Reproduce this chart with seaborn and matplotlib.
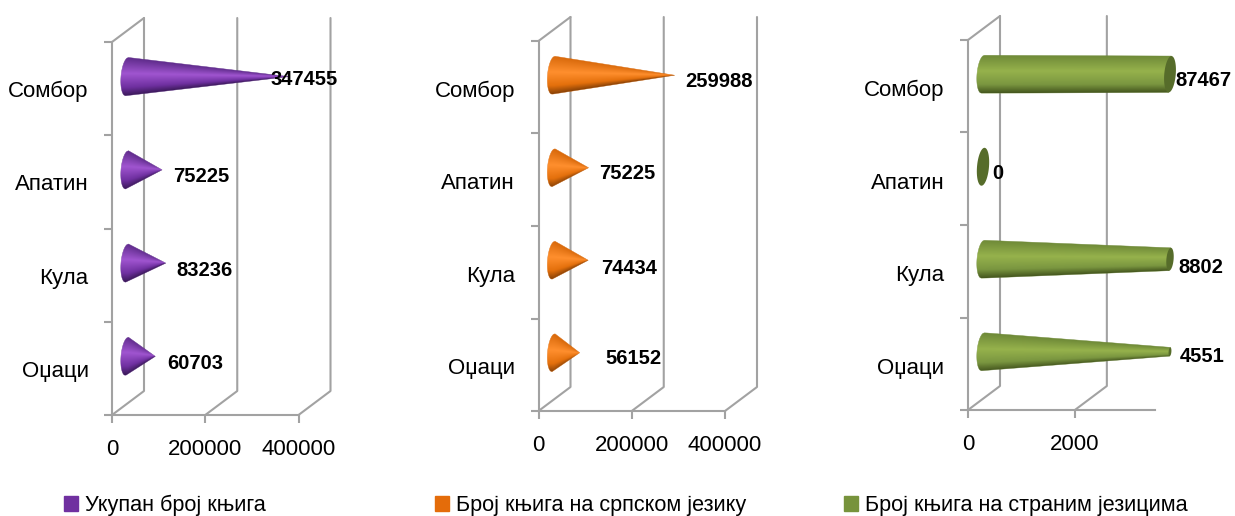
"""
Book counts by municipality, three cone-style horizontal bar panels.
"""

import numpy as np
import pandas as pd
import seaborn as sns
import matplotlib.pyplot as plt
from matplotlib.colors import LinearSegmentedColormap
from matplotlib.patches import Patch, Polygon

cities = ["Сомбор", "Апатин", "Кула", "Оџаци"]
total_books = [347455, 75225, 83236, 60703]
serbian_books = [259988, 75225, 74434, 56152]
foreign_books = [87467, 0, 8802, 4551]

series_names = ["Укупан број књига", "Број књига на српском језику",
                "Број књига на страним језицима"]
ticks_total = [0, 200000, 400000]
ticks_foreign = [0, 2000]

FONT = ["Liberation Sans", "DejaVu Sans"]
GRAY = "#a2a2a2"
W, H = 1235, 516

# per panel: left, right, top, bottom of the front plane in pixels, xmax, ticks,
# shades (edge, light, base, dark, cap), label shift from the tip
panels = [
    dict(values=total_books, box=(112, 298.5, 42, 415), xmax=400000,
         ticks=ticks_total,
         shades=("#5e2b8a", "#a055d0", "#6f30a0", "#3a1958", "#4d2373"),
         label_dx=[-19, 11, 11, 12], label_dy=[3, 7, 7, 7], cat_dy=3,
         legend_x=64, name=series_names[0], swatch="#7030a0"),
    dict(values=serbian_books, box=(538.5, 725, 41, 411), xmax=400000,
         ticks=ticks_total,
         shades=("#d96a0c", "#ff8f2e", "#e4700c", "#8a4206", "#a04c08"),
         label_dx=[11, 11, 13, 26], label_dy=[6, 6, 8, 6], cat_dy=4,
         legend_x=435, name=series_names[1], swatch="#e46c0a"),
    dict(values=foreign_books, box=(968, 1155, 40, 410), xmax=3500,
         ticks=ticks_foreign,
         shades=("#6f8a38", "#96b24c", "#7a9640", "#46581f", "#566c2a"),
         label_dx=[5, 9, 8, 10], label_dy=[6, 7, 8, 5], cat_dy=4.5,
         legend_x=844, name=series_names[2], swatch="#77933c"),
]


def draw_cone(ax, p, xmax, shades, px_x, px_y):
    """Turn one hidden seaborn bar into a shaded cone at the chart's mid depth."""
    value = p.get_width()
    r = p.get_height() / 2
    cy = p.get_y() + r - 12 * px_y
    x0 = 15 * px_x
    wid = 6 * px_x
    slant = 1.5 * px_x
    end = min(value, xmax)
    # clipped bars stop before their tip and keep part of the radius
    keep = 1 - end / value if value > 0 else 1
    cmap = LinearSegmentedColormap.from_list(
        "cone", [(0, shades[0]), (0.42, shades[1]), (0.78, shades[2]), (1, shades[3])])
    if value > 0:
        t = np.linspace(-1, 1, 61)
        back = np.c_[x0 - wid * np.sqrt(1 - t ** 2) - slant * t, cy + r * t]
        front = np.c_[x0 + end - slant * t * keep, cy + r * t * keep][::-1]
        outline = Polygon(np.r_[back, front], transform=ax.transData, facecolor="none",
                          edgecolor=shades[0], lw=0.3, zorder=3, clip_on=False)
        ax.add_patch(outline)
        xs = np.linspace(x0 - wid - slant, x0 + end + slant, 400)
        ys = np.linspace(cy - r, cy + r, 120)
        gx, gy = np.meshgrid(xs, ys)
        radius = r * np.clip(1 - (gx - x0) / value, 0.003, 1)
        pos = (np.clip((gy - cy) / radius, -1, 1) + 1) / 2
        im = ax.imshow(cmap(pos), extent=(xs[0], xs[-1], cy + r, cy - r), origin="upper",
                       aspect="auto", interpolation="bilinear", zorder=3)
        im.set_clip_box(ax.figure.bbox)
        im.set_clip_path(outline)
    if keep > 0.02:
        a = np.linspace(0, 2 * np.pi, 60)
        cx = x0 + end
        ax.add_patch(Polygon(np.c_[cx + wid * keep * np.cos(a) - slant * keep * np.sin(a),
                                   cy + r * keep * np.sin(a)],
                             facecolor=shades[4], edgecolor="none", zorder=4,
                             clip_on=False))
    return x0 + end, cy


def draw_panel(fig, cfg):
    left, right, top, bottom = cfg["box"]
    ax = fig.add_axes([left / W, 1 - bottom / H, (right - left) / W, (bottom - top) / H])
    df = pd.DataFrame({"city": cities, "books": cfg["values"]})
    sns.barplot(data=df, y="city", x="books", order=cities, orient="h",
                width=0.41, ax=ax, errorbar=None)
    bars = list(ax.patches)
    ax.set_xlim(0, cfg["xmax"])
    ax.set_ylim(len(cities) - 0.5, -0.5)
    px_x = cfg["xmax"] / (right - left)
    px_y = len(cities) / (bottom - top)

    # back wall lines and the floor joining them to the front axis
    ybot, ytop = len(cities) - 0.5, -0.5
    dx, dy = 32 * px_x, -24 * px_y
    for tk in cfg["ticks"]:
        ax.plot([tk, tk + dx, tk + dx], [ybot, ybot + dy, ytop + dy], color=GRAY,
                lw=1.5, clip_on=False, zorder=1)
    ax.plot([0, dx], [ytop, ytop + dy], color=GRAY, lw=1.5, clip_on=False, zorder=1)

    for bar in bars:
        bar.set_visible(False)
    tips = [draw_cone(ax, p, cfg["xmax"], cfg["shades"], px_x, px_y) for p in bars]
    # imshow moves the limits
    ax.set_xlim(0, cfg["xmax"])
    ax.set_ylim(ybot, ytop)

    for (tx, ty), value, ldx, ldy in zip(tips, cfg["values"], cfg["label_dx"], cfg["label_dy"]):
        ax.annotate(str(value), (tx, ty), xytext=(ldx * 0.72, -ldy * 0.72),
                    textcoords="offset points", ha="left", va="center", fontsize=14.5,
                    fontweight="bold", color="black", zorder=6, annotation_clip=False)

    sns.despine(ax=ax)
    for side in ["left", "bottom"]:
        ax.spines[side].set_color(GRAY)
        ax.spines[side].set_linewidth(1.5)
        ax.spines[side].set_zorder(2)
    ax.set_xlabel("")
    ax.set_ylabel("")
    ax.set_xticks(cfg["ticks"])
    ax.set_xticklabels([str(t) for t in cfg["ticks"]])
    ax.set_yticks(np.arange(len(cities) + 1) - 0.5, minor=False)
    ax.set_yticklabels([""] * (len(cities) + 1))
    ax.tick_params(axis="both", color=GRAY, width=1.5, length=6, labelsize=16,
                   labelcolor="black", pad=11)
    for i, city in enumerate(cities):
        ax.annotate(city, (0, i), xytext=(-23.5 * 0.72, -cfg["cat_dy"] * 0.72),
                    textcoords="offset points", ha="right", va="center", fontsize=16,
                    color="black", annotation_clip=False)

    leg = ax.legend(handles=[Patch(color=cfg["swatch"], label=cfg["name"])],
                    loc="center left", bbox_to_anchor=(cfg["legend_x"] / W, 1 - 505.5 / H),
                    bbox_transform=fig.transFigure, frameon=False, borderpad=0,
                    borderaxespad=0, handlelength=0.65, handleheight=0.65,
                    handletextpad=0.3, fontsize=15.6)
    for txt in leg.get_texts():
        txt.set_color("black")
    ax.patch.set_alpha(0)


def main():
    sns.set_theme(style="ticks")
    plt.rcParams["font.family"] = FONT
    fig = plt.figure(figsize=(W / 100, H / 100), dpi=100)
    for cfg in panels:
        draw_panel(fig, cfg)
    fig.savefig("out.png", dpi=100)


if __name__ == "__main__":
    main()
